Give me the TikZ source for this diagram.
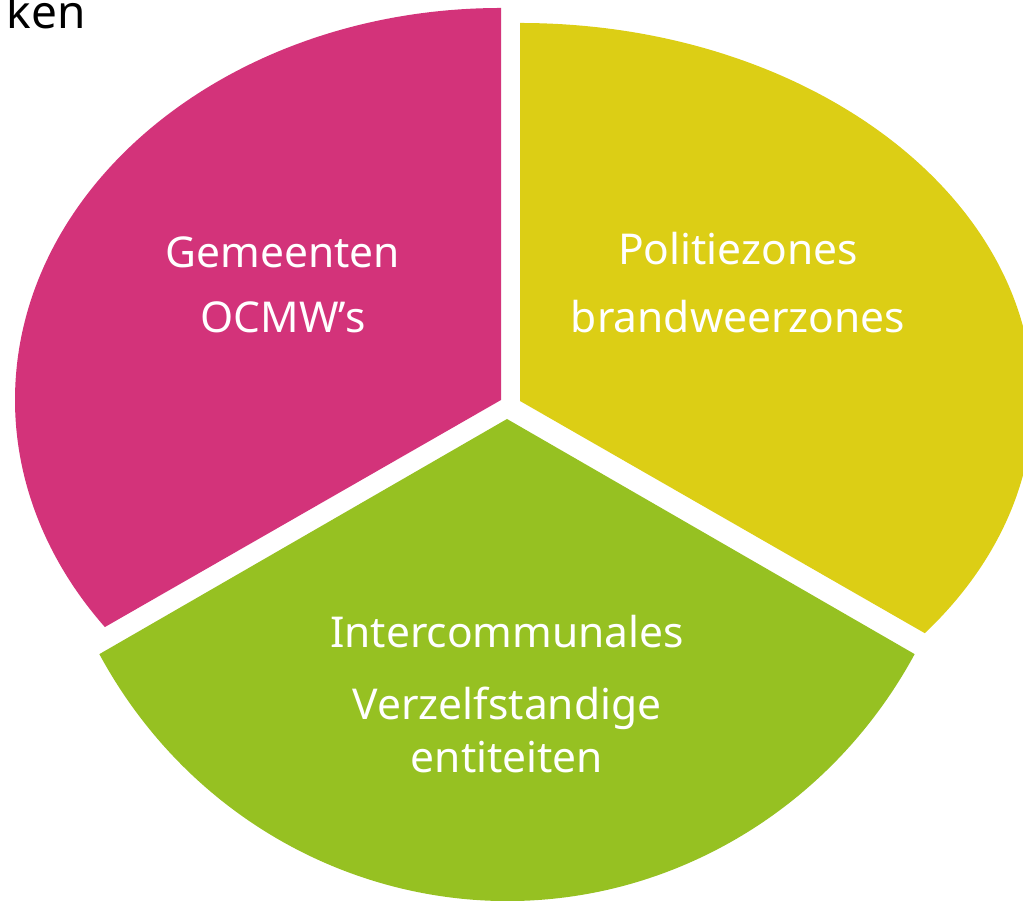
\documentclass[tikz,border=0pt]{standalone}
\usepackage{fontspec}
\setmainfont{Noto Sans}
\definecolor{pinkc}{RGB}{211,51,122}
\definecolor{yellowc}{RGB}{220,206,21}
\definecolor{greenc}{RGB}{150,193,34}
\begin{document}
\begin{tikzpicture}[x=1pt,y=1pt,
  lbl/.style={text=white, font=\fontsize{42.5}{50}\selectfont, anchor=base, inner sep=0pt},
  titletext/.style={text=black, font=\fontsize{46}{52}\selectfont, anchor=base east, inner sep=0pt}]
\useasboundingbox (0,0) rectangle (1023,901);
\clip (0,0) rectangle (1023,901);
\fill[pinkc] (501,501) -- ++(0,392) arc[start angle=90,end angle=215.4,x radius=486pt,y radius=392pt] -- cycle;
\fill[yellowc] (520,500) -- ++(0,378) arc[start angle=90,end angle=-37.9,x radius=513pt,y radius=378pt] -- cycle;
\fill[greenc] (507,482) -- ++(209.2:467pt and 482pt) arc[start angle=209.2,end angle=330.8,x radius=467pt,y radius=482pt] -- cycle;
\node[lbl] (g1) at (283,633) {Gemeenten};
\node[lbl] (g2) at (283,568) {OCMW’s};
\node[lbl] (p1) at (738,636) {Politiezones};
\node[lbl] (p2) at (738,568) {brandweerzones};
\node[lbl] (i1) at (507,253) {Intercommunales};
\node[lbl] (i2) at (507,181) {Verzelfstandige};
\node[lbl] (i3) at (507,128) {entiteiten};
\node[titletext] (ken) at (86,872) {ken};
\end{tikzpicture}
\end{document}
